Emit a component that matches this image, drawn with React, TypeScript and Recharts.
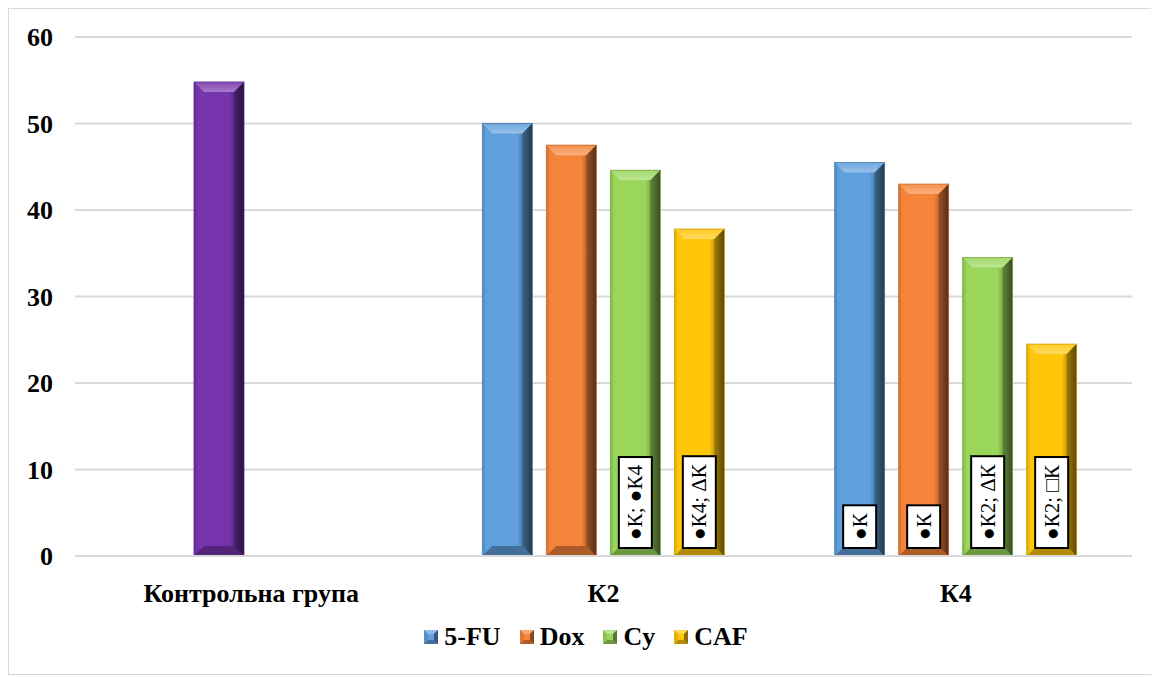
import React from "react";
import { BarChart, Bar, XAxis, YAxis, CartesianGrid, Legend, LabelList } from "recharts";

const categories = ["Контрольна група", "К2", "К4"];
const controlValues = [54.8, 0, 0];
const fuValues = [0, 50.0, 45.5];
const doxValues = [0, 47.5, 43.0];
const cyValues = [0, 44.6, 34.5];
const cafValues = [0, 37.8, 24.5];
const fuLabels = ["", "", "●К"];
const doxLabels = ["", "", "●К"];
const cyLabels = ["", "●К; ●К4", "●К2; ΔК"];
const cafLabels = ["", "●К4; ΔК", "●К2; □К"];
const yTicks = [0, 10, 20, 30, 40, 50, 60];

const COLORS = {
  control: "#7634ad",
  fu: "#5f9fdc",
  dox: "#f5843a",
  cy: "#9ad65a",
  caf: "#ffc60a",
};

const data = categories.map((c, i) => ({
  name: c,
  control: controlValues[i],
  fu: fuValues[i],
  dox: doxValues[i],
  cy: cyValues[i],
  caf: cafValues[i],
  fuLab: fuLabels[i],
  doxLab: doxLabels[i],
  cyLab: cyLabels[i],
  cafLab: cafLabels[i],
}));

const FONT = "'Liberation Serif', 'Times New Roman', serif";

function mix(hex: string, target: number, t: number) {
  const n = parseInt(hex.slice(1), 16);
  const r = (n >> 16) & 255, g = (n >> 8) & 255, b = n & 255;
  const f = (v: number) => Math.round(v + (target - v) * t);
  return `rgb(${f(r)},${f(g)},${f(b)})`;
}

const BevelBar = (props: any) => {
  const { x, y, width, height, fill } = props;
  if (!height || height <= 0.5 || !width) return null;
  const b = Math.min(10, height / 2);
  const id = "g" + fill.replace("#", "");
  const tid = "t" + fill.replace("#", "");
  return (
    <g>
      <defs>
        <linearGradient id={id} x1="0" y1="0" x2="1" y2="0">
          <stop offset="0" stopColor={mix(fill, 0, 0.15)} />
          <stop offset="0.08" stopColor={fill} />
          <stop offset="0.7" stopColor={fill} />
          <stop offset="0.85" stopColor={mix(fill, 0, 0.3)} />
          <stop offset="1" stopColor={mix(fill, 0, 0.75)} />
        </linearGradient>
        <linearGradient id={tid} x1="0" y1="0" x2="0" y2="1">
          <stop offset="0" stopColor={mix(fill, 255, 0.1)} />
          <stop offset="1" stopColor={mix(fill, 255, 0.35)} />
        </linearGradient>
      </defs>
      <rect x={x} y={y} width={width} height={height} fill={`url(#${id})`} />
      <polygon
        points={`${x},${y} ${x + width},${y} ${x + width - b},${y + b} ${x + b},${y + b}`}
        fill={`url(#${tid})`}
      />
      <polygon
        points={`${x + width},${y} ${x + width},${y + height} ${x + width - b},${y + height - b} ${x + width - b},${y + b}`}
        fill={mix(fill, 0, 0.55)}
        opacity={0.55}
      />
      <polygon
        points={`${x},${y + height} ${x + width},${y + height} ${x + width - b},${y + height - b} ${x + b},${y + height - b}`}
        fill={mix(fill, 0, 0.3)}
      />
      <rect x={x} y={y} width={width} height={height} fill="none" stroke={mix(fill, 0, 0.2)} strokeWidth={0.8} />
    </g>
  );
};

let ctx: CanvasRenderingContext2D | null = null;
function measure(text: string, font: string) {
  if (typeof document === "undefined") return text.length * 10;
  if (!ctx) ctx = document.createElement("canvas").getContext("2d");
  if (!ctx) return text.length * 10;
  ctx.font = font;
  return ctx.measureText(text).width;
}

const BoxLabel = (props: any) => {
  const { x, y, width, height, value } = props;
  if (!value) return null;
  const fs = 21;
  const tw = measure(String(value), `${fs}px ${FONT}`);
  const bw = 33;
  const bh = tw + 16;
  const bottom = y + height - 8;
  const bx = x + (width - bw) / 2;
  const by = bottom - bh;
  const cx = x + width / 2;
  const cy = by + bh / 2;
  return (
    <g>
      <rect x={bx} y={by} width={bw} height={bh} fill="#ffffff" stroke="#000000" strokeWidth={2} />
      <text
        x={cx}
        y={cy}
        transform={`rotate(-90 ${cx} ${cy})`}
        textAnchor="middle"
        dominantBaseline="central"
        fontFamily={FONT}
        fontSize={fs}
        fill="#000"
      >
        {value}
      </text>
    </g>
  );
};

const legendItems = [
  { label: "5-FU", color: COLORS.fu },
  { label: "Dox", color: COLORS.dox },
  { label: "Cy", color: COLORS.cy },
  { label: "CAF", color: COLORS.caf },
];

const LegendIcon = ({ color }: { color: string }) => (
  <svg width={14} height={14} style={{ marginRight: 6 }}>
    <rect x={0} y={0} width={14} height={14} fill={color} />
    <polygon points="0,0 14,0 10,4 4,4" fill={mix(color, 255, 0.3)} />
    <polygon points="14,0 14,14 10,10 10,4" fill={mix(color, 0, 0.45)} />
    <polygon points="0,14 14,14 10,10 4,10" fill={mix(color, 0, 0.3)} />
    <polygon points="0,0 0,14 4,10 4,4" fill={mix(color, 0, 0.1)} />
  </svg>
);

const CustomLegend = () => (
  <div
    style={{
      height: 30,
      display: "flex",
      justifyContent: "center",
      alignItems: "center",
      fontFamily: FONT,
      fontWeight: "bold",
      fontSize: 26,
      color: "#000",
      paddingLeft: 50,
    }}
  >
    {legendItems.map((it) => (
      <div key={it.label} style={{ display: "flex", alignItems: "center", marginRight: 19 }}>
        <LegendIcon color={it.color} />
        <span>{it.label}</span>
      </div>
    ))}
  </div>
);

export default function App() {
  return (
    <div style={{ width: 1145, height: 667, border: "1px solid #d9d9d9", boxSizing: "border-box", background: "#fff" }}>
      <BarChart
        width={1143}
        height={665}
        data={data}
        margin={{ top: 28, right: 20, bottom: 22, left: 0 }}
        barGap={14}
        barSize={50}
      >
        <CartesianGrid vertical={false} stroke="#d9d9d9" strokeWidth={2} />
        <XAxis
          dataKey="name"
          axisLine={{ stroke: "#d9d9d9", strokeWidth: 2 }}
          tickLine={false}
          height={66}
          tickMargin={22}
          tick={{ fontFamily: FONT, fontWeight: "bold", fontSize: 26, fill: "#000" }}
        />
        <YAxis
          domain={[0, 60]}
          ticks={yTicks}
          width={66}
          axisLine={false}
          tickLine={false}
          tickSize={0}
          tickMargin={22}
          tick={{ fontFamily: FONT, fontWeight: "bold", fontSize: 26, fill: "#000" }}
        />
        <Legend verticalAlign="bottom" content={<CustomLegend />} />
        <Bar dataKey="fu" name="5-FU" stackId="a" fill={COLORS.fu} shape={<BevelBar />} isAnimationActive={false}>
          <LabelList dataKey="fuLab" content={<BoxLabel />} />
        </Bar>
        <Bar dataKey="dox" name="Dox" stackId="b" fill={COLORS.dox} shape={<BevelBar />} isAnimationActive={false}>
          <LabelList dataKey="doxLab" content={<BoxLabel />} />
        </Bar>
        <Bar
          dataKey="control"
          name="Контрольна група"
          stackId="b"
          fill={COLORS.control}
          shape={<BevelBar />}
          legendType="none"
          isAnimationActive={false}
        />
        <Bar dataKey="cy" name="Cy" stackId="c" fill={COLORS.cy} shape={<BevelBar />} isAnimationActive={false}>
          <LabelList dataKey="cyLab" content={<BoxLabel />} />
        </Bar>
        <Bar dataKey="caf" name="CAF" stackId="d" fill={COLORS.caf} shape={<BevelBar />} isAnimationActive={false}>
          <LabelList dataKey="cafLab" content={<BoxLabel />} />
        </Bar>
      </BarChart>
    </div>
  );
}
